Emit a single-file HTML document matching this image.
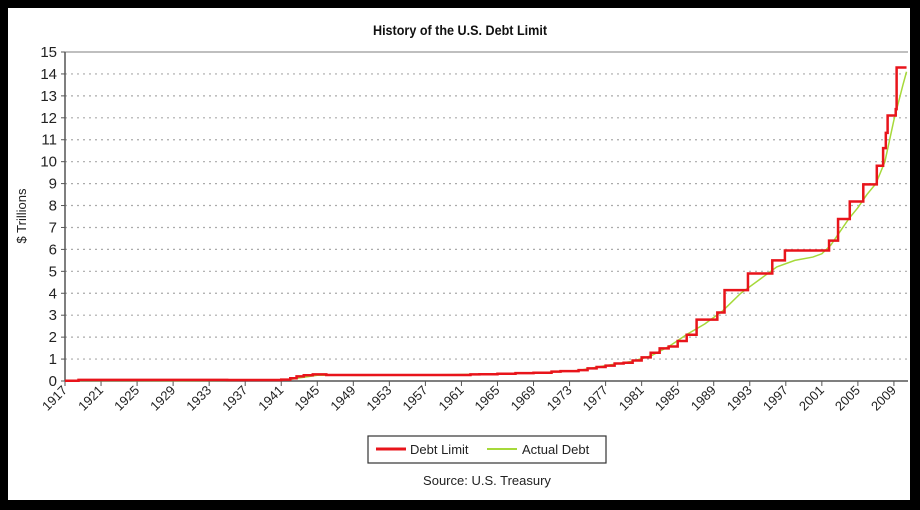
<!DOCTYPE html>
<html><head><meta charset="utf-8"><style>
html,body{margin:0;padding:0;background:#000;}
svg{display:block;font-family:"Liberation Sans",sans-serif;}
</style></head><body>
<svg width="920" height="510" viewBox="0 0 920 510">
<rect x="0" y="0" width="920" height="510" fill="#000"/>
<rect x="8" y="8" width="902" height="492" fill="#fff"/>
<text x="460" y="35" text-anchor="middle" font-size="14" font-weight="bold" fill="#111" transform="translate(460,0) scale(0.9,1) translate(-460,0)">History of the U.S. Debt Limit</text>
<text transform="translate(26,216) rotate(-90)" text-anchor="middle" font-size="13" fill="#222">$ Trillions</text>
<g id="grid"></g><g id="yt"></g><g id="xt"></g>
<path id="actual" fill="none" stroke="#a6d93a" stroke-width="1.5"/>
<path id="limit" fill="none" stroke="#e8141b" stroke-width="2.5"/>
<g>
<rect x="368" y="436" width="238" height="27" fill="#fff" stroke="#333" stroke-width="1.2"/>
<line x1="376" y1="449" x2="406" y2="449" stroke="#e8141b" stroke-width="3"/>
<text x="410" y="454" font-size="13" fill="#222">Debt Limit</text>
<line x1="487" y1="449" x2="517" y2="449" stroke="#a6d93a" stroke-width="2"/>
<text x="522" y="454" font-size="13" fill="#222">Actual Debt</text>
</g>
<text x="487" y="485" text-anchor="middle" font-size="13" fill="#222">Source: U.S. Treasury</text>
</svg>
<script>
const yTicks=[0,1,2,3,4,5,6,7,8,9,10,11,12,13,14,15];
const xTickYears=[1917,1921,1925,1929,1933,1937,1941,1945,1949,1953,1957,1961,1965,1969,1973,1977,1981,1985,1989,1993,1997,2001,2005,2009];
const limitYears=[1917,1918.5,1935,1941,1942,1942.7,1943.5,1944.5,1946,1962,1963,1965,1967,1969,1971,1972,1974,1975,1976,1977,1978,1979,1980,1981,1982,1983,1984,1985,1986,1987.1,1989.4,1990.2,1992.8,1995.5,1996.9,2001.8,2002.8,2004.1,2005.6,2007.1,2007.8,2008.1,2008.3,2009.2,2009.3,2010.4];
const limitValues=[0.012,0.05,0.045,0.065,0.125,0.21,0.26,0.3,0.275,0.3,0.309,0.328,0.358,0.377,0.43,0.45,0.495,0.577,0.636,0.7,0.798,0.83,0.935,1.079,1.29,1.49,1.573,1.824,2.111,2.8,3.123,4.145,4.9,5.5,5.95,6.4,7.384,8.184,8.965,9.815,10.615,11.315,12.104,12.394,14.294,14.294];
const actualYears=[1917,1919,1930,1935,1940,1942,1943,1944,1945,1946,1950,1955,1960,1965,1970,1974,1977,1980,1982,1984,1986,1988,1990,1991,1992,1994,1996,1998,2000,2001,2002,2003,2004,2005,2006,2007,2008,2009,2010,2010.4];
const actualValues=[0.006,0.025,0.016,0.03,0.043,0.07,0.14,0.2,0.26,0.27,0.257,0.274,0.29,0.32,0.38,0.48,0.7,0.9,1.14,1.57,2.12,2.6,3.2,3.6,4.0,4.6,5.2,5.5,5.65,5.8,6.2,6.8,7.4,7.9,8.5,9.0,10.0,11.9,13.5,14.1];
const NS="http://www.w3.org/2000/svg";
const X0=65,X1=908,Y0=381,Y1=52;
function xs(yr){return X0+(yr-1917)*9.01;}
function ys(v){return Y0-(v/15)*(Y0-Y1);}
function mk(tag,attrs,parent){const e=document.createElementNS(NS,tag);for(const k in attrs)e.setAttribute(k,attrs[k]);parent.appendChild(e);return e;}
const grid=document.getElementById('grid'),yt=document.getElementById('yt'),xt=document.getElementById('xt');
yTicks.forEach(v=>{
  if(v>0&&v<15){const l=mk('line',{x1:X0,x2:X1,y1:ys(v),y2:ys(v),stroke:'#aaa','stroke-dasharray':'2,4','stroke-width':1.2},grid);
  
  }
  const t=mk('text',{x:X0-8,y:ys(v)+5,'text-anchor':'end','font-size':15,fill:'#222'},yt);t.textContent=v;
  
  
  mk('line',{x1:X0-4,x2:X0,y1:ys(v),y2:ys(v),stroke:'#555'},yt);
});
mk('line',{x1:X0,x2:X1,y1:Y1,y2:Y1,stroke:'#aaa','stroke-width':1.5},grid);
mk('line',{x1:X0,x2:X0,y1:Y1,y2:Y0,stroke:'#555','stroke-width':1.5},grid);
mk('line',{x1:X0,x2:X1,y1:Y0,y2:Y0,stroke:'#555','stroke-width':1.5},grid);
xTickYears.forEach(yr=>{
  const x=xs(yr);
  mk('line',{x1:x,x2:x,y1:Y0,y2:Y0+5,stroke:'#555'},xt);
  const t=mk('text',{transform:`translate(${x+3},${Y0+10}) rotate(-45)`,'text-anchor':'end','font-size':13,fill:'#222'},xt);
  t.textContent=yr;
  
  
});
let d='';
limitYears.forEach((yr,i)=>{const x=xs(yr),y=ys(limitValues[i]);
  if(i===0)d+=`M${x},${y}`;else d+=`H${x}V${y}`;});
document.getElementById('limit').setAttribute('d',d);
let d2='';
actualYears.forEach((yr,i)=>{d2+=(i?'L':'M')+xs(yr)+','+ys(actualValues[i]);});
document.getElementById('actual').setAttribute('d',d2);
</script>
</body></html>
